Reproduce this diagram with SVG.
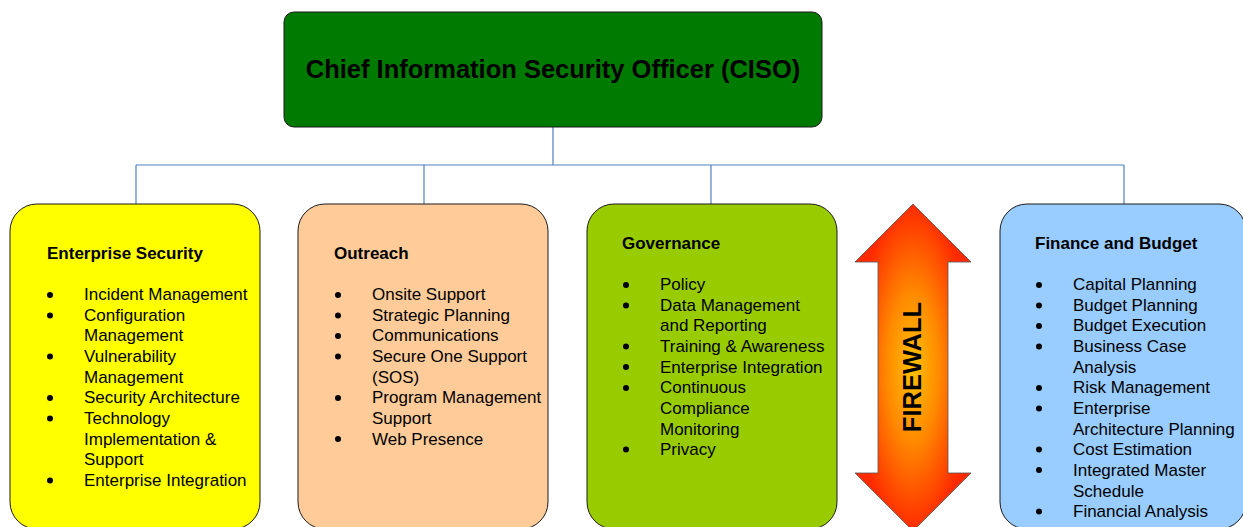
<svg xmlns="http://www.w3.org/2000/svg" width="1243" height="527" viewBox="0 0 1243 527">
  <style>
    .box { stroke: #1a1a1a; stroke-width: 1; }
    .title { font-family: "Liberation Sans", Arial, sans-serif; font-weight: bold; font-size: 17px; fill: #000; }
    .item { font-family: "Liberation Sans", Arial, sans-serif; font-size: 17px; fill: #000; }
    .dot { fill: #000; }
    .link { fill: none; stroke: #4F81BD; stroke-width: 1.2; }
  </style>
  <defs>
    <radialGradient id="fireGrad" cx="0.5" cy="0.5" r="0.5">
      <stop offset="0" stop-color="#FFC000"/>
      <stop offset="0.45" stop-color="#FF8A00"/>
      <stop offset="1" stop-color="#FF2A00"/>
    </radialGradient>
  </defs>
  <rect width="1243" height="527" fill="#ffffff"/>

  <!-- org chart connectors -->
  <g id="connectors">
    <path class="link" d="M553 127 V165"/>
    <path class="link" d="M136 165 H1124"/>
    <path class="link" d="M136 165 V204"/>
    <path class="link" d="M424 165 V204"/>
    <path class="link" d="M711 165 V204"/>
    <path class="link" d="M1124 165 V204"/>
  </g>

  <!-- top node -->
  <g id="ciso">
    <rect class="box" x="284" y="12" width="538" height="115" rx="10" fill="#007A00"/>
    <text x="553" y="78" text-anchor="middle" font-family="'Liberation Sans', Arial, sans-serif" font-weight="bold" font-size="25.5" fill="#000">Chief Information Security Officer (CISO)</text>
  </g>

  <!-- Enterprise Security -->
  <g id="enterprise-security">
    <rect class="box" x="10" y="204" width="250" height="325" rx="27" fill="#FFFF00"/>
    <text class="title" x="47" y="259">Enterprise Security</text>
    <circle class="dot" cx="50" cy="295" r="3"/>
    <circle class="dot" cx="50" cy="315.5" r="3"/>
    <circle class="dot" cx="50" cy="356.5" r="3"/>
    <circle class="dot" cx="50" cy="398" r="3"/>
    <circle class="dot" cx="50" cy="418.5" r="3"/>
    <circle class="dot" cx="50" cy="480.5" r="3"/>
    <text class="item" x="84" y="300">Incident Management</text>
    <text class="item" x="84" y="320.6">Configuration</text>
    <text class="item" x="84" y="341.3">Management</text>
    <text class="item" x="84" y="362">Vulnerability</text>
    <text class="item" x="84" y="382.6">Management</text>
    <text class="item" x="84" y="403.3">Security Architecture</text>
    <text class="item" x="84" y="424">Technology</text>
    <text class="item" x="84" y="444.6">Implementation &amp;</text>
    <text class="item" x="84" y="465.3">Support</text>
    <text class="item" x="84" y="486">Enterprise Integration</text>
  </g>

  <!-- Outreach -->
  <g id="outreach">
    <rect class="box" x="298" y="204" width="250" height="325" rx="27" fill="#FFCC99"/>
    <text class="title" x="334" y="259">Outreach</text>
    <circle class="dot" cx="338" cy="295" r="3"/>
    <circle class="dot" cx="338" cy="315.5" r="3"/>
    <circle class="dot" cx="338" cy="336" r="3"/>
    <circle class="dot" cx="338" cy="356.5" r="3"/>
    <circle class="dot" cx="338" cy="398" r="3"/>
    <circle class="dot" cx="338" cy="439" r="3"/>
    <text class="item" x="372" y="300">Onsite Support</text>
    <text class="item" x="372" y="320.6">Strategic Planning</text>
    <text class="item" x="372" y="341.3">Communications</text>
    <text class="item" x="372" y="362">Secure One Support</text>
    <text class="item" x="372" y="382.6">(SOS)</text>
    <text class="item" x="372" y="403.3">Program Management</text>
    <text class="item" x="372" y="424">Support</text>
    <text class="item" x="372" y="444.6">Web Presence</text>
  </g>

  <!-- Governance -->
  <g id="governance">
    <rect class="box" x="587" y="204" width="250" height="325" rx="27" fill="#99CC00"/>
    <text class="title" x="622" y="249">Governance</text>
    <circle class="dot" cx="626" cy="285" r="3"/>
    <circle class="dot" cx="626" cy="305.5" r="3"/>
    <circle class="dot" cx="626" cy="346.5" r="3"/>
    <circle class="dot" cx="626" cy="367" r="3"/>
    <circle class="dot" cx="626" cy="388" r="3"/>
    <circle class="dot" cx="626" cy="449.5" r="3"/>
    <text class="item" x="660" y="290">Policy</text>
    <text class="item" x="660" y="310.6">Data Management</text>
    <text class="item" x="660" y="331.3">and Reporting</text>
    <text class="item" x="660" y="352">Training &amp; Awareness</text>
    <text class="item" x="660" y="372.6">Enterprise Integration</text>
    <text class="item" x="660" y="393.3">Continuous</text>
    <text class="item" x="660" y="414">Compliance</text>
    <text class="item" x="660" y="434.6">Monitoring</text>
    <text class="item" x="660" y="455.3">Privacy</text>
  </g>

  <!-- Firewall double arrow -->
  <g id="firewall">
    <polygon points="913,204 971,262 948,262 948,473 971,473 913,531 855,473 878,473 878,262 855,262" fill="url(#fireGrad)" stroke="#555" stroke-width="0.8"/>
    <text transform="translate(921,367) rotate(-90)" text-anchor="middle" font-family="'Liberation Sans', Arial, sans-serif" font-weight="bold" font-size="25.5" fill="#000">FIREWALL</text>
  </g>

  <!-- Finance and Budget -->
  <g id="finance-budget">
    <rect class="box" x="1000" y="204" width="246" height="325" rx="27" fill="#99CCFF"/>
    <text class="title" x="1035" y="249">Finance and Budget</text>
    <circle class="dot" cx="1039" cy="285" r="3"/>
    <circle class="dot" cx="1039" cy="305.5" r="3"/>
    <circle class="dot" cx="1039" cy="326" r="3"/>
    <circle class="dot" cx="1039" cy="346.5" r="3"/>
    <circle class="dot" cx="1039" cy="388" r="3"/>
    <circle class="dot" cx="1039" cy="408.5" r="3"/>
    <circle class="dot" cx="1039" cy="449.5" r="3"/>
    <circle class="dot" cx="1039" cy="470" r="3"/>
    <circle class="dot" cx="1039" cy="511.5" r="3"/>
    <text class="item" x="1073" y="290">Capital Planning</text>
    <text class="item" x="1073" y="310.6">Budget Planning</text>
    <text class="item" x="1073" y="331.3">Budget Execution</text>
    <text class="item" x="1073" y="352">Business Case</text>
    <text class="item" x="1073" y="372.6">Analysis</text>
    <text class="item" x="1073" y="393.3">Risk Management</text>
    <text class="item" x="1073" y="414">Enterprise</text>
    <text class="item" x="1073" y="434.6">Architecture Planning</text>
    <text class="item" x="1073" y="455.3">Cost Estimation</text>
    <text class="item" x="1073" y="476">Integrated Master</text>
    <text class="item" x="1073" y="496.6">Schedule</text>
    <text class="item" x="1073" y="517.3">Financial Analysis</text>
  </g>
</svg>
